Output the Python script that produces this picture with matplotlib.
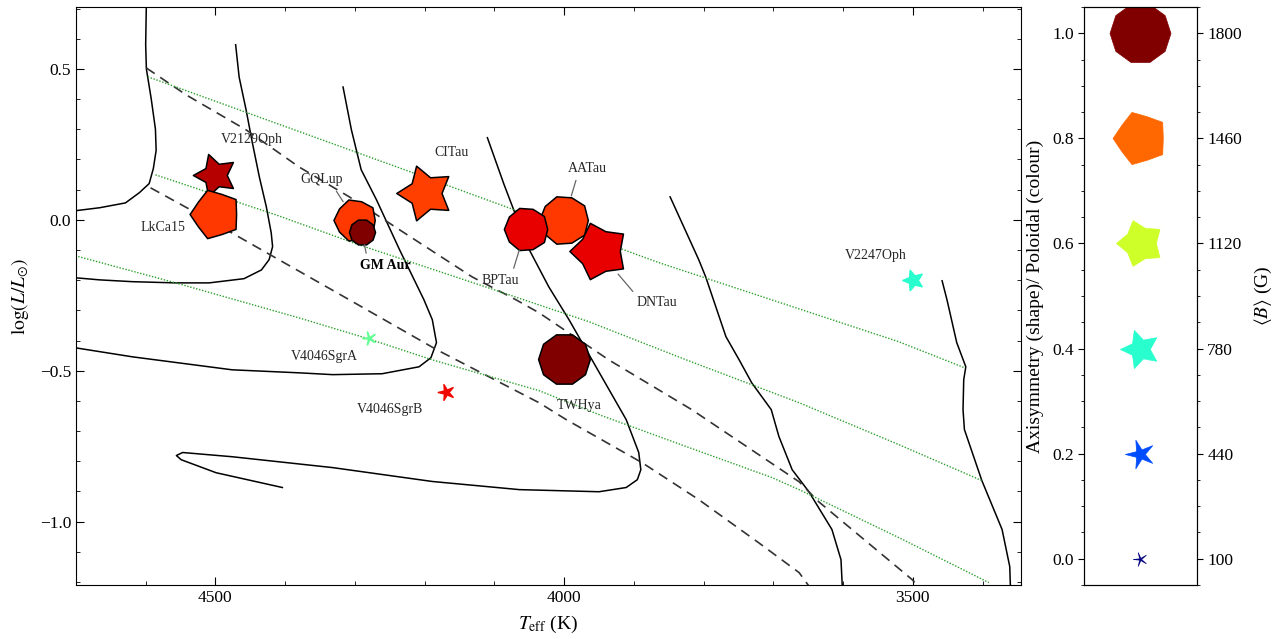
import numpy as np
import matplotlib
matplotlib.use('Agg')
import matplotlib.pyplot as plt
from matplotlib.path import Path
from matplotlib.ticker import MultipleLocator

plt.rcParams['font.family'] = 'serif'
plt.rcParams['font.serif'] = ['Liberation Serif', 'DejaVu Serif']
plt.rcParams['mathtext.fontset'] = 'stix'

# stars: Teff (K), log L/Lsun, axisymmetry (shape), poloidal fraction (colour), <B> (G, size)
names = ['V2129Oph', 'LkCa15', 'GQLup', 'GM Aur', 'CITau', 'AATau', 'BPTau',
         'DNTau', 'TWHya', 'V2247Oph', 'V4046SgrA', 'V4046SgrB']
teff = [4500, 4500, 4300, 4290, 4200, 4000, 4055, 3950, 4000, 3500, 4280, 4170]
logl = [0.15, 0.02, 0.0, -0.04, 0.09, 0.0, -0.03, -0.105, -0.46, -0.20, -0.39, -0.57]
axisym = [0.45, 0.8, 0.9, 1.0, 0.5, 0.95, 0.95, 0.65, 1.0, 0.35, 0.0, 0.18]
poloidal = [0.95, 0.85, 0.85, 1.0, 0.84, 0.85, 0.91, 0.91, 1.0, 0.4, 0.47, 0.9]
bmean = [950, 1250, 900, 330, 1600, 1200, 950, 1700, 1300, 220, 90, 130]

# mass tracks (solid)
trackA_t = [4599, 4600, 4599, 4592, 4586, 4585, 4589, 4595, 4609, 4629, 4666, 4701]
trackA_l = [0.72, 0.58, 0.50, 0.40, 0.30, 0.23, 0.17, 0.12, 0.09, 0.056, 0.04, 0.03]
trackB_t = [4471, 4466, 4456, 4447, 4437, 4427, 4420, 4418, 4423, 4434, 4459, 4509,
            4557, 4619, 4666, 4701]
trackB_l = [0.58, 0.473, 0.364, 0.255, 0.142, 0.043, -0.043, -0.089, -0.132, -0.166,
            -0.195, -0.209, -0.209, -0.205, -0.199, -0.192]
trackC_t = [4317, 4305, 4291, 4269, 4236, 4201, 4189, 4183, 4191, 4208, 4261, 4332,
            4380, 4476, 4619, 4701]
trackC_l = [0.44, 0.298, 0.166, 0.066, -0.099, -0.265, -0.331, -0.407, -0.457, -0.487,
            -0.51, -0.513, -0.507, -0.497, -0.454, -0.424]
trackD_t = [4110, 4086, 4064, 4050, 4022, 3993, 3960, 3911, 3893, 3890, 3895, 3911,
            3950, 4064, 4189, 4332, 4476, 4547, 4556, 4549, 4499, 4404]
trackD_l = [0.272, 0.116, -0.017, -0.099, -0.222, -0.331, -0.464, -0.662, -0.771, -0.828,
            -0.861, -0.887, -0.901, -0.894, -0.867, -0.821, -0.785, -0.771, -0.781,
            -0.795, -0.838, -0.887]
trackE_t = [3848, 3807, 3797, 3768, 3749, 3731, 3703, 3692, 3673, 3649, 3616, 3603, 3601]
trackE_l = [0.076, -0.132, -0.189, -0.387, -0.464, -0.540, -0.629, -0.718, -0.828,
            -0.901, -1.026, -1.126, -1.22]
trackF_t = [3458, 3451, 3437, 3424, 3427, 3428, 3426, 3401, 3372, 3361, 3360]
trackF_l = [-0.202, -0.265, -0.407, -0.487, -0.530, -0.629, -0.695, -0.864, -1.026,
            -1.149, -1.22]

# dashed lines
dashA_t = [4599, 4542, 4456, 4380, 4308, 4236, 4132, 4069, 4036, 3936, 3817, 3663,
           3635, 3501, 3490]
dashA_l = [0.503, 0.414, 0.298, 0.175, 0.076, -0.033, -0.189, -0.265, -0.308, -0.464,
           -0.629, -0.868, -0.934, -1.192, -1.22]
dashB_t = [4593, 4504, 4416, 4308, 4183, 4036, 3997, 3888, 3807, 3721, 3663, 3647]
dashB_l = [0.106, -0.007, -0.123, -0.265, -0.430, -0.606, -0.662, -0.805, -0.927,
           -1.070, -1.169, -1.22]

# isochrones (green dotted)
isoA_t = [4597, 4236, 3864, 3520, 3426]
isoA_l = [0.474, 0.172, -0.142, -0.404, -0.490]
isoB_t = [4586, 4414, 4294, 4122, 3964, 3825, 3663, 3520, 3401]
isoB_l = [0.149, 0.017, -0.083, -0.215, -0.338, -0.464, -0.606, -0.745, -0.864]
isoC_t = [4701, 4557, 4380, 4281, 4189, 4036, 3946, 3824, 3702, 3663, 3520, 3391]
isoC_l = [-0.119, -0.209, -0.325, -0.394, -0.464, -0.566, -0.649, -0.752, -0.854,
          -0.894, -1.053, -1.202]

# key column
key_vals = [0.0, 0.2, 0.4, 0.6, 0.8, 1.0]
key_b = [100, 440, 780, 1120, 1460, 1800]


def shape(a):
    # 5 points; inner radius grows with axisymmetry (1 -> decagon)
    rin = 0.15 + 0.85 * a
    verts = []
    for k in range(5):
        ao = np.deg2rad(180 + 72 * k)
        ai = ao + np.deg2rad(36)
        verts.append((np.cos(ao), np.sin(ao)))
        verts.append((rin * np.cos(ai), rin * np.sin(ai)))
    verts.append(verts[0])
    codes = [Path.MOVETO] + [Path.LINETO] * 9 + [Path.CLOSEPOLY]
    return Path(verts, codes)


def msize(b):
    return 1.07 * b


cmap = plt.get_cmap('jet')

fig = plt.figure(figsize=(12.72, 6.39), dpi=100)
ax = fig.add_axes([0.0597, 0.0845, 0.7429, 0.9045])

for t, l in [(trackA_t, trackA_l), (trackB_t, trackB_l), (trackC_t, trackC_l),
             (trackD_t, trackD_l), (trackE_t, trackE_l), (trackF_t, trackF_l)]:
    ax.plot(t, l, color='k', lw=1.1, zorder=2)
for t, l in [(dashA_t, dashA_l), (dashB_t, dashB_l)]:
    ax.plot(t, l, color='0.2', lw=1.2, ls=(0, (6, 4)), zorder=2)
for t, l in [(isoA_t, isoA_l), (isoB_t, isoB_l), (isoC_t, isoC_l)]:
    ax.plot(t, l, color='#2ca02c', lw=1.0, ls=(0, (1, 1.2)), zorder=2)

offsets = {'V2129Oph': (26, 25), 'LkCa15': (-38, -10), 'GQLup': (-24, 29),
           'GM Aur': (17, -24), 'CITau': (19, 29), 'AATau': (17, 37),
           'BPTau': (-18, -37), 'DNTau': (42, -37), 'TWHya': (11, -34),
           'V2247Oph': (-27, 18), 'V4046SgrA': (-32, -14), 'V4046SgrB': (-40, -13)}
leaders = {'GQLup': (0.77, 0.0), 'GM Aur': (0.14, 1.0), 'AATau': (0.24, 0.0),
           'BPTau': (0.8, 1.0), 'DNTau': (0.0, 1.0)}

for i, n in enumerate(names):
    col = cmap(poloidal[i])
    s = msize(bmean[i])
    ec = 'k' if bmean[i] >= 300 else col
    ax.scatter([teff[i]], [logl[i]], s=s, marker=shape(axisym[i]), c=[col],
               edgecolors=ec, linewidths=1.1, zorder=3 + i * 0.01)
    kw = dict(textcoords='offset points', ha='center', va='center', fontsize=10,
              color='0.15', zorder=5)
    if n == 'GM Aur':
        kw['fontweight'] = 'bold'
        kw['color'] = 'k'
    if n in leaders:
        kw['arrowprops'] = dict(arrowstyle='-', color='0.4', lw=0.9,
                                shrinkA=2, shrinkB=np.sqrt(s) / 2,
                                relpos=leaders[n])
    ax.annotate(n, (teff[i], logl[i]), xytext=offsets[n], **kw)

ax.set_xlim(4700, 3345)
ax.set_ylim(-1.21, 0.705)
ax.xaxis.set_major_locator(MultipleLocator(500))
ax.xaxis.set_minor_locator(MultipleLocator(100))
ax.yaxis.set_major_locator(MultipleLocator(0.5))
ax.yaxis.set_minor_locator(MultipleLocator(0.1))
ax.tick_params(which='both', direction='in', top=True, right=True, labelsize=12.5)
ax.tick_params(which='major', length=6)
ax.tick_params(which='minor', length=3)
ax.set_xlabel(r'$T_{\rm eff}$ (K)', fontsize=14, labelpad=6)
ax.set_ylabel(r'$\log(L/L_{\odot})$', fontsize=14, labelpad=6)

# key column
kx = fig.add_axes([0.8522, 0.0845, 0.0888, 0.9045])
kx.set_xlim(-1, 1)
kx.set_ylim(-0.05, 1.05)
for v, b in zip(key_vals, key_b):
    kx.scatter([0], [v], s=msize(b), marker=shape(v), c=[cmap(v)],
               edgecolors=[cmap(v)], linewidths=0.5)
kx.set_xticks([])
kx.yaxis.set_major_locator(MultipleLocator(0.2))
kx.yaxis.set_minor_locator(MultipleLocator(0.05))
kx.tick_params(which='both', direction='out', labelsize=12.5)
kx.tick_params(which='major', length=4)
kx.tick_params(which='minor', length=2)
kx.set_ylabel('Axisymmetry (shape)/ Poloidal (colour)', fontsize=14, labelpad=6)

rx = kx.twinx()
rx.set_ylim(-0.05, 1.05)
rx.set_yticks(key_vals)
rx.set_yticklabels([str(b) for b in key_b])
rx.yaxis.set_minor_locator(MultipleLocator(0.05))
rx.tick_params(which='both', direction='out', labelsize=12.5)
rx.tick_params(which='major', length=4)
rx.tick_params(which='minor', length=2)
rx.set_ylabel(r'$\langle B\rangle$ (G)', fontsize=14, labelpad=8)

fig.savefig('out.png', dpi=100)
